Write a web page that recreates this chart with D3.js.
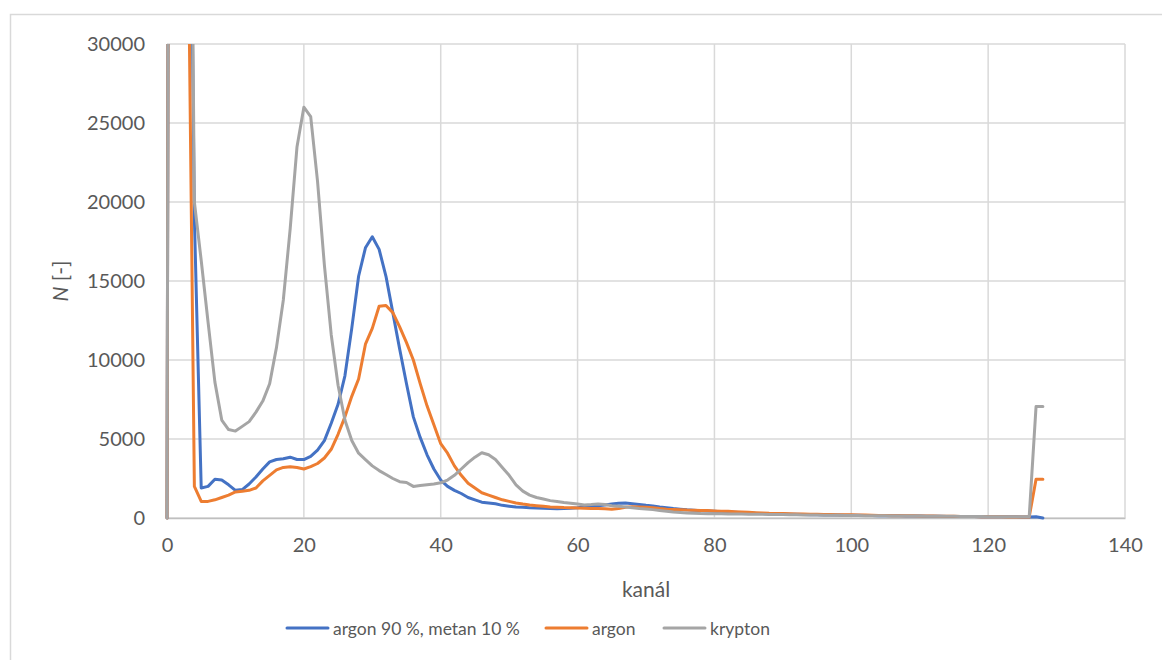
<!DOCTYPE html>
<html>
<head>
<meta charset="utf-8">
<script src="https://cdn.jsdelivr.net/npm/d3@7"></script>
<style>
  body { margin: 0; background: #fff; }
  svg { display: block; font-family: Lato, "Open Sans", sans-serif; }
</style>
</head>
<body>
<svg id="chart" width="1162" height="660"></svg>
<script>
// channel numbers 0..128
const channels = d3.range(0, 129);

const seriesNames = ["argon 90 %, metan 10 %", "argon", "krypton"];
const seriesColors = ["#4472c4", "#ed7d31", "#a5a5a5"];

// argon 90 %, metan 10 %
const argonMetan = [
  0, 200000, 200000, 60000, 19000, 1900, 2000, 2450, 2400, 2100,
  1750, 1800, 2150, 2600, 3100, 3550, 3700, 3750, 3850, 3700,
  3700, 3900, 4300, 4900, 6000, 7200, 9000, 12000, 15300, 17100,
  17800, 17000, 15300, 13000, 10700, 8500, 6400, 5100, 4000, 3100,
  2400, 2000, 1750, 1550, 1300, 1150, 1000, 950, 900, 800,
  750, 700, 680, 650, 640, 620, 600, 580, 600, 620,
  650, 700, 740, 780, 820, 880, 930, 950, 900, 850,
  800, 760, 700, 650, 600, 560, 520, 490, 460, 440,
  420, 400, 380, 360, 340, 320, 300, 290, 275, 260,
  250, 240, 230, 220, 210, 200, 195, 190, 185, 180,
  175, 170, 160, 155, 150, 145, 140, 135, 130, 125,
  120, 115, 110, 105, 100, 100, 95, 90, 90, 85,
  85, 80, 80, 75, 75, 70, 70, 80, 0
];

// argon
const argon = [
  0, 200000, 200000, 41000, 2000, 1050, 1050, 1150, 1300, 1450,
  1650, 1700, 1750, 1900, 2350, 2700, 3050, 3200, 3250, 3200,
  3100, 3250, 3450, 3800, 4350, 5300, 6400, 7700, 8800, 11000,
  12000, 13400, 13450, 13000, 12100, 11100, 10000, 8500, 7100, 5900,
  4700, 4100, 3300, 2700, 2200, 1900, 1600, 1450, 1300, 1150,
  1050, 950, 880, 820, 780, 740, 700, 680, 660, 650,
  640, 620, 600, 600, 580, 560, 600, 680, 720, 700,
  680, 650, 600, 560, 540, 520, 500, 490, 480, 470,
  450, 430, 420, 400, 380, 360, 340, 320, 300, 290,
  280, 270, 260, 250, 240, 230, 225, 220, 210, 205,
  200, 195, 185, 175, 165, 160, 150, 145, 140, 135,
  130, 125, 120, 115, 110, 105, 100, 95, 90, 85,
  80, 80, 75, 70, 65, 60, 60, 2450, 2450
];

// krypton
const krypton = [
  0, 200000, 200000, 70000, 20000, 16300, 12400, 8600, 6200, 5600,
  5500, 5800, 6100, 6700, 7400, 8500, 10800, 13800, 18300, 23500,
  26000, 25400, 21300, 16000, 11600, 8400, 6200, 4900, 4100, 3700,
  3300, 3000, 2750, 2500, 2300, 2250, 2000, 2050, 2100, 2150,
  2230, 2400, 2700, 3100, 3500, 3850, 4130, 4000, 3700, 3200,
  2700, 2100, 1700, 1450, 1300, 1200, 1100, 1050, 980, 930,
  880, 820, 850, 890, 850, 780, 740, 700, 650, 600,
  570, 530, 480, 430, 380, 350, 320, 300, 280, 275,
  270, 265, 260, 255, 250, 245, 240, 235, 225, 220,
  215, 210, 200, 195, 190, 185, 180, 175, 170, 165,
  160, 155, 150, 145, 140, 135, 130, 128, 125, 122,
  120, 118, 115, 112, 110, 105, 100, 95, 90, 88,
  85, 82, 80, 80, 80, 80, 80, 7050, 7050
];

const xTicks = [0, 20, 40, 60, 80, 100, 120, 140];
const yTicks = [0, 5000, 10000, 15000, 20000, 25000, 30000];

const svg = d3.select("#chart");
const margin = { top: 44, right: 37, bottom: 142, left: 167 };
const width = 1162 - margin.left - margin.right;
const height = 660 - margin.top - margin.bottom;

// chart frame
svg.append("rect")
  .attr("x", 10.5).attr("y", 14.5)
  .attr("width", 1160).attr("height", 660)
  .attr("fill", "none")
  .attr("stroke", "#d9d9d9")
  .attr("stroke-width", 1.5);

const x = d3.scaleLinear().domain([0, 140]).range([0, width]);
const y = d3.scaleLinear().domain([0, 30000]).range([height, 0]);

const g = svg.append("g")
  .attr("transform", `translate(${margin.left},${margin.top})`);

// gridlines
g.append("g")
  .selectAll("line")
  .data(yTicks)
  .join("line")
  .attr("x1", 0).attr("x2", width)
  .attr("y1", d => y(d)).attr("y2", d => y(d))
  .attr("stroke", "#d9d9d9")
  .attr("stroke-width", 1.5);

g.append("g")
  .selectAll("line")
  .data(xTicks)
  .join("line")
  .attr("x1", d => x(d)).attr("x2", d => x(d))
  .attr("y1", 0).attr("y2", height)
  .attr("stroke", "#d9d9d9")
  .attr("stroke-width", 1.5);

// axes (labels only, Excel style)
const yAxis = g.append("g")
  .call(d3.axisLeft(y).tickValues(yTicks).tickFormat(d3.format("d")).tickSize(0).tickPadding(22));
yAxis.select(".domain").remove();
yAxis.selectAll("text")
  .attr("fill", "#595959")
  .style("font-size", "20px")
  .style("font-family", "Lato, sans-serif");

const xAxis = g.append("g")
  .attr("transform", `translate(0,${height})`)
  .call(d3.axisBottom(x).tickValues(xTicks).tickSize(0).tickPadding(20));
xAxis.select(".domain")
  .attr("stroke", "#bfbfbf")
  .attr("stroke-width", 1.5);
xAxis.selectAll("text")
  .attr("fill", "#595959")
  .style("font-size", "20px")
  .style("font-family", "Lato, sans-serif");

// series
svg.append("defs").append("clipPath")
  .attr("id", "plotClip")
  .append("rect")
  .attr("x", -10).attr("y", 0)
  .attr("width", width + 20).attr("height", height + 4);

const allSeries = [argonMetan, argon, krypton];
const line = d3.line()
  .x((d, i) => x(channels[i]))
  .y(d => y(d));

g.append("g")
  .attr("clip-path", "url(#plotClip)")
  .selectAll("path")
  .data(allSeries)
  .join("path")
  .attr("d", d => line(d))
  .attr("fill", "none")
  .attr("stroke", (d, i) => seriesColors[i])
  .attr("stroke-width", 3)
  .attr("stroke-linejoin", "round")
  .attr("stroke-linecap", "round");

// axis titles
svg.append("text")
  .attr("x", margin.left + width / 2)
  .attr("y", 597)
  .attr("text-anchor", "middle")
  .attr("fill", "#595959")
  .style("font-size", "21px")
  .text("kanál");

const yTitle = svg.append("text")
  .attr("transform", `translate(68,${margin.top + height / 2}) rotate(-90)`)
  .attr("text-anchor", "middle")
  .attr("fill", "#595959")
  .style("font-size", "21px");
yTitle.append("tspan").style("font-style", "italic").text("N");
yTitle.append("tspan").text(" [-]");

// legend
const legendX = [287, 546, 664];
const legend = svg.append("g");
seriesNames.forEach((name, i) => {
  const item = legend.append("g").attr("transform", `translate(${legendX[i]},628)`);
  item.append("line")
    .attr("x1", 0).attr("x2", 41)
    .attr("y1", 0).attr("y2", 0)
    .attr("stroke", seriesColors[i])
    .attr("stroke-width", 3)
    .attr("stroke-linecap", "round");
  item.append("text")
    .attr("x", 46).attr("y", 7)
    .attr("fill", "#595959")
    .style("font-size", "17.5px")
    .text(name);
});
</script>
</body>
</html>
